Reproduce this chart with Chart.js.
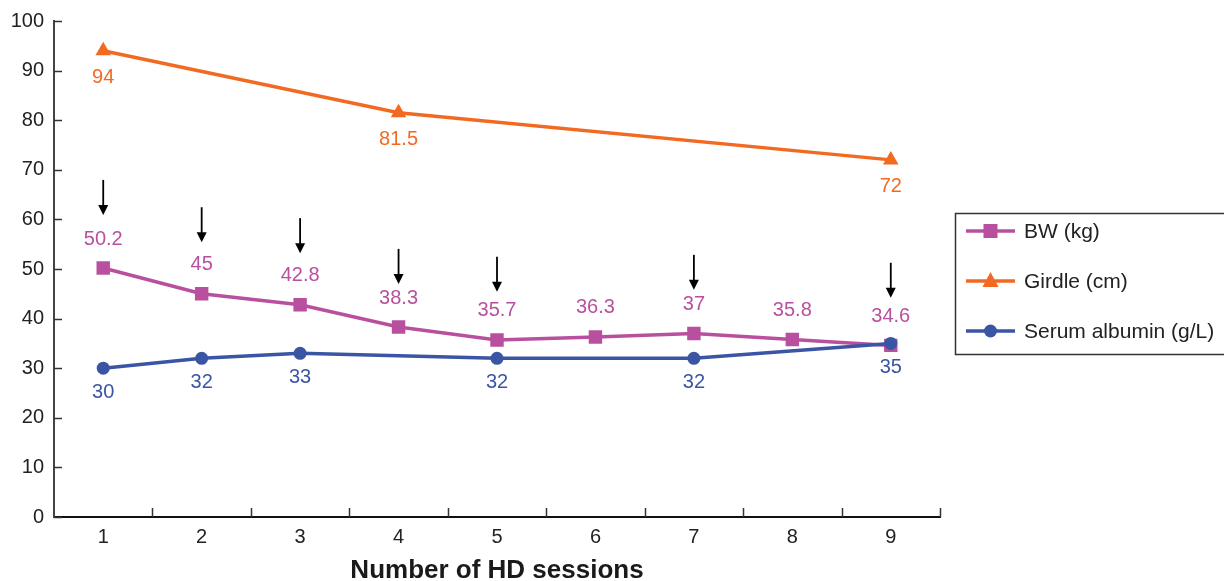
<!DOCTYPE html>
<html>
<head>
<meta charset="utf-8">
<script src="https://cdn.jsdelivr.net/npm/chart.js@4/dist/chart.umd.min.js"></script>
<style>
  html, body { margin: 0; padding: 0; background: #fff; }
  #wrap { width: 1224px; height: 581px; }
</style>
</head>
<body>
<div id="wrap"><canvas id="c" width="1224" height="581"></canvas></div>
<script>
// Sessions on the x axis
const sessions = ['1', '2', '3', '4', '5', '6', '7', '8', '9'];
// Body weight (kg) at every session
const bodyWeight = [50.2, 45, 42.8, 38.3, 35.7, 36.3, 37, 35.8, 34.6];
// Girdle (cm), measured at sessions 1, 4 and 9
const girdle = [94, null, null, 81.5, null, null, null, null, 72];
// Serum albumin (g/L)
const albumin = [30, 32, 33, null, 32, null, 32, null, 35];
// Sessions marked with a downward arrow, and the value the arrow tip points to
const arrowSessions = [1, 2, 3, 4, 5, 7, 9];
const arrowTips = [60.9, 55.4, 53.2, 47.0, 45.4, 45.8, 44.2];
// Y axis ticks
const yTicks = [0, 10, 20, 30, 40, 50, 60, 70, 80, 90, 100];

const C_BW = '#b9509f';
const C_GIRDLE = '#f26a22';
const C_ALB = '#3a55a4';
const FONT = '"Liberation Sans", Arial, Helvetica, sans-serif';

const overlay = {
  id: 'overlay',
  afterDatasetsDraw(chart) {
    const ctx = chart.ctx;
    const xs = chart.scales.x, ys = chart.scales.y;
    const ca = chart.chartArea;
    ctx.save();

    // inward tick marks
    ctx.strokeStyle = '#333';
    ctx.lineWidth = 1.5;
    yTicks.forEach(v => {
      const y = Math.round(ys.getPixelForValue(v)) + 0.5;
      ctx.beginPath(); ctx.moveTo(ca.left, y); ctx.lineTo(ca.left + 8, y); ctx.stroke();
    });
    for (let i = 0; i < sessions.length; i++) {
      const x = Math.round(xs.getPixelForValue(i + 0.5)) + 0.5;
      ctx.beginPath(); ctx.moveTo(x, ca.bottom); ctx.lineTo(x, ca.bottom - 9); ctx.stroke();
    }

    // value labels
    ctx.font = '20px ' + FONT;
    ctx.textAlign = 'center';
    ctx.textBaseline = 'middle';
    const label = (arr, color, dy) => {
      ctx.fillStyle = color;
      arr.forEach((v, i) => {
        if (v === null) return;
        ctx.fillText(String(v), xs.getPixelForValue(i), ys.getPixelForValue(v) + dy);
      });
    };
    label(bodyWeight, C_BW, -29);
    label(girdle, C_GIRDLE, 27);
    label(albumin, C_ALB, 24);

    // arrows
    ctx.strokeStyle = '#000';
    ctx.fillStyle = '#000';
    ctx.lineWidth = 1.8;
    arrowSessions.forEach((s, k) => {
      const x = xs.getPixelForValue(s - 1);
      const tip = ys.getPixelForValue(arrowTips[k]);
      ctx.beginPath(); ctx.moveTo(x, tip - 35); ctx.lineTo(x, tip - 6); ctx.stroke();
      ctx.beginPath();
      ctx.moveTo(x - 5, tip - 10); ctx.lineTo(x + 5, tip - 10); ctx.lineTo(x, tip); ctx.closePath();
      ctx.fill();
    });

    // x axis title
    ctx.fillStyle = '#1a1a1a';
    ctx.font = 'bold 26px ' + FONT;
    ctx.fillText('Number of HD sessions', (ca.left + ca.right) / 2, 571);

    // legend box
    const lx = 955, ly = 213, lw = 290, lh = 141;
    ctx.strokeStyle = '#333';
    ctx.lineWidth = 1.5;
    ctx.strokeRect(lx + 0.5, ly + 0.5, lw, lh);
    ctx.font = '21px ' + FONT;
    ctx.textAlign = 'left';
    chart.data.datasets.forEach((ds, i) => {
      const y = [231, 281, 331][i];
      ctx.strokeStyle = ds.borderColor;
      ctx.lineWidth = 3.5;
      ctx.beginPath(); ctx.moveTo(966, y); ctx.lineTo(1015, y); ctx.stroke();
      ctx.fillStyle = ds.borderColor;
      const cx = 990.5;
      if (ds.pointStyle === 'rect') {
        ctx.fillRect(cx - 7, y - 7, 14, 14);
      } else if (ds.pointStyle === 'triangle') {
        ctx.beginPath(); ctx.moveTo(cx, y - 9); ctx.lineTo(cx + 8, y + 6); ctx.lineTo(cx - 8, y + 6); ctx.closePath(); ctx.fill();
      } else {
        ctx.beginPath(); ctx.arc(cx, y, 6.5, 0, Math.PI * 2); ctx.fill();
      }
      ctx.fillStyle = '#222';
      ctx.fillText(ds.label, 1024, y + 1);
    });
    ctx.restore();
  }
};

new Chart(document.getElementById('c'), {
  type: 'line',
  data: {
    labels: sessions,
    datasets: [
      { label: 'BW (kg)', data: bodyWeight, borderColor: C_BW, backgroundColor: C_BW,
        borderWidth: 3.5, pointStyle: 'rect', pointRadius: 9.5, pointBorderWidth: 0, order: 2 },
      { label: 'Girdle (cm)', data: girdle, borderColor: C_GIRDLE, backgroundColor: C_GIRDLE,
        borderWidth: 3.5, pointStyle: 'triangle', pointRadius: 9, pointBorderWidth: 0, spanGaps: true, order: 1 },
      { label: 'Serum albumin (g/L)', data: albumin, borderColor: C_ALB, backgroundColor: C_ALB,
        borderWidth: 3.5, pointStyle: 'circle', pointRadius: 6.5, pointBorderWidth: 0, spanGaps: true, order: 0 }
    ]
  },
  options: {
    responsive: false,
    animation: false,
    layout: { padding: { left: 0, top: 21, right: 284, bottom: 0 } },
    plugins: { legend: { display: false }, tooltip: { enabled: false } },
    scales: {
      x: {
        offset: true,
        grid: { display: false },
        border: { display: true, color: '#111', width: 2 },
        ticks: { color: '#222', font: { family: FONT, size: 20 }, padding: 0 },
        afterFit: s => { s.height = 64; }
      },
      y: {
        min: 0, max: 100,
        grid: { display: false },
        border: { display: true, color: '#444', width: 2 },
        ticks: { stepSize: 10, color: '#222', font: { family: FONT, size: 20 }, padding: 2 },
        afterFit: s => { s.width = 54; }
      }
    }
  },
  plugins: [overlay]
});
</script>
</body>
</html>
